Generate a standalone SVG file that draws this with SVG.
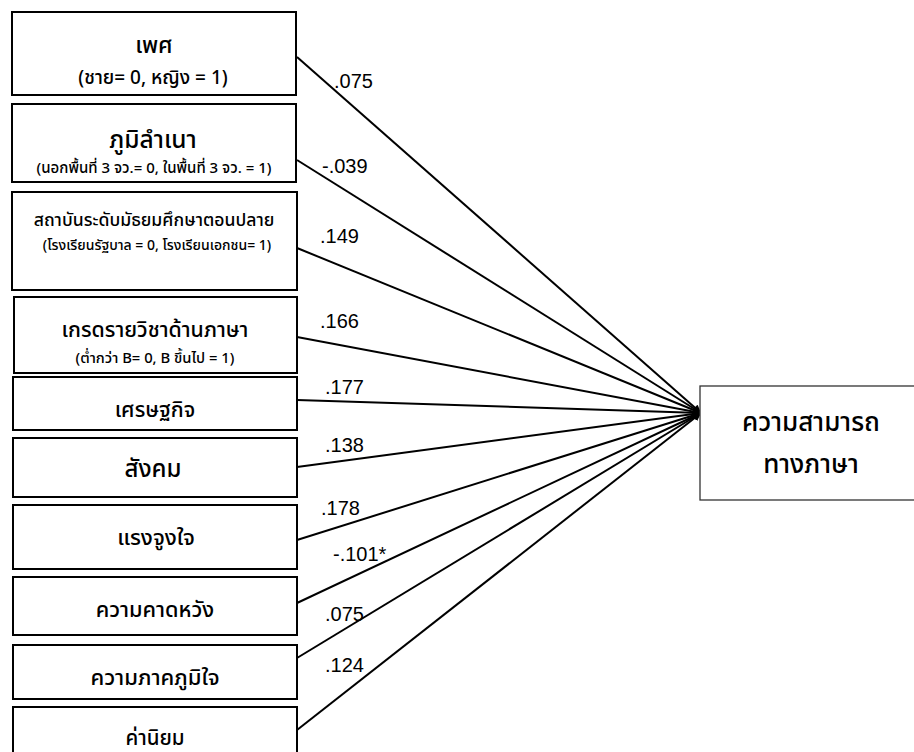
<svg xmlns="http://www.w3.org/2000/svg" width="914" height="752" viewBox="0 0 914 752">
<style>
.box{fill:#fff;stroke:#000;stroke-width:2}
.tbox{fill:#fff;stroke:#333;stroke-width:1.3}
.t{font-family:"Noto Sans Thai","Tahoma","DejaVu Sans","Noto Sans",sans-serif;text-anchor:middle;fill:#000;font-weight:500}
.h{font-size:22px}
.s{font-size:19px}
.xs{font-size:15px}
.big{font-size:26px}
.lbl{font-family:"Liberation Sans","Noto Sans",sans-serif;font-size:20px;fill:#000}
.c{stroke:#000;stroke-width:2;fill:none;marker-end:url(#ah)}
</style>
<defs>
<marker id="ah" viewBox="0 0 10 10" refX="10" refY="5" markerWidth="8" markerHeight="8" markerUnits="userSpaceOnUse" orient="auto">
<path d="M0,0 L10,5 L0,10 z" fill="#000"/>
</marker>
</defs>
<rect width="914" height="752" fill="#fff"/>
<g id="connectors">
<line class="c" x1="297" y1="57" x2="701" y2="413"/>
<line class="c" x1="297" y1="160" x2="701" y2="413"/>
<line class="c" x1="297" y1="248" x2="701" y2="413"/>
<line class="c" x1="297" y1="337" x2="701" y2="413"/>
<line class="c" x1="297" y1="400" x2="701" y2="413"/>
<line class="c" x1="297" y1="467" x2="701" y2="413"/>
<line class="c" x1="297" y1="540" x2="701" y2="413"/>
<line class="c" x1="297" y1="603" x2="701" y2="413"/>
<line class="c" x1="297" y1="658" x2="701" y2="413"/>
<line class="c" x1="297" y1="730" x2="701" y2="413"/>
<text class="lbl" x="334" y="88">.075</text>
<text class="lbl" x="322" y="173">-.039</text>
<text class="lbl" x="320" y="243">.149</text>
<text class="lbl" x="320" y="328">.166</text>
<text class="lbl" x="325" y="394">.177</text>
<text class="lbl" x="325" y="452">.138</text>
<text class="lbl" x="321" y="515">.178</text>
<text class="lbl" x="333" y="561">-.101*</text>
<text class="lbl" x="325" y="621">.075</text>
<text class="lbl" x="325" y="672">.124</text>
</g>
<g id="n1"><rect class="box" x="12" y="12" width="284" height="83"/>
<text class="t h" x="154" y="53" style="font-size:23px">เพศ</text>
<text class="t s" x="153" y="84">(ชาย= 0, หญิง = 1)</text></g>
<g id="n2"><rect class="box" x="12" y="104" width="284" height="78"/>
<text class="t h" x="153" y="148" style="font-size:24.5px">ภูมิลำเนา</text>
<text class="t xs" x="154" y="173">(นอกพื้นที่ 3 จว.= 0, ในพื้นที่ 3 จว. = 1)</text></g>
<g id="n3"><rect class="box" x="12" y="192" width="285" height="98"/>
<text class="t h" x="154" y="226" style="font-size:17.6px">สถาบันระดับมัธยมศึกษาตอนปลาย</text>
<text class="t xs" x="157" y="250" style="font-size:14px">(โรงเรียนรัฐบาล = 0,  โรงเรียนเอกชน= 1)</text></g>
<g id="n4"><rect class="box" x="14" y="297" width="283" height="76"/>
<text class="t h" x="155" y="337" style="font-size:21.3px">เกรดรายวิชาด้านภาษา</text>
<text class="t xs" x="155" y="363" style="font-size:14.8px">(ต่ำกว่า B= 0, B ขึ้นไป = 1)</text></g>
<g id="n5"><rect class="box" x="13" y="377" width="284" height="53"/>
<text class="t h" x="155" y="417" style="font-size:21.3px">เศรษฐกิจ</text></g>
<g id="n6"><rect class="box" x="13" y="438" width="284" height="59"/>
<text class="t h" x="153" y="477" style="font-size:24px">สังคม</text></g>
<g id="n7"><rect class="box" x="13" y="505" width="284" height="64"/>
<text class="t h" x="156" y="545">แรงจูงใจ</text></g>
<g id="n8"><rect class="box" x="13" y="577" width="284" height="58"/>
<text class="t h" x="155" y="617" style="font-size:21.7px">ความคาดหวัง</text></g>
<g id="n9"><rect class="box" x="13" y="645" width="284" height="54"/>
<text class="t h" x="155" y="685">ความภาคภูมิใจ</text></g>
<g id="n10"><rect class="box" x="13" y="707" width="284" height="60"/>
<text class="t h" x="155" y="745" style="font-size:20.5px">ค่านิยม</text></g>
<g id="target"><rect class="tbox" x="700" y="386" width="230" height="114"/>
<text class="t big" x="811" y="431">ความสามารถ</text>
<text class="t big" x="811" y="473">ทางภาษา</text></g>
</svg>
